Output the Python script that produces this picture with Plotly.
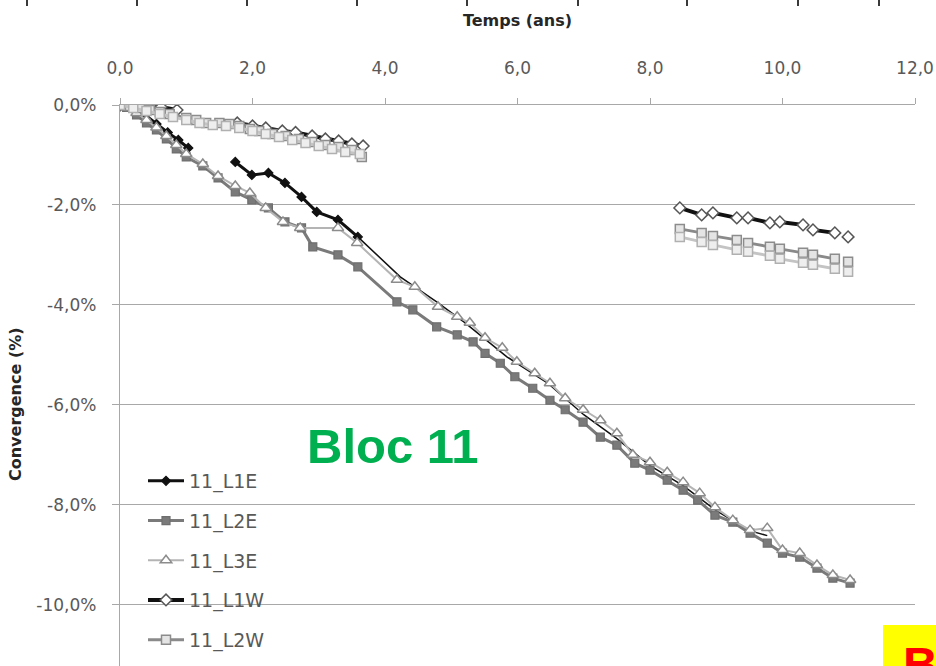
import plotly.graph_objects as go

# ---- Axis ticks -------------------------------------------------------------
x_tick_vals = [0, 2, 4, 6, 8, 10, 12]
x_tick_text = ["0,0", "2,0", "4,0", "6,0", "8,0", "10,0", "12,0"]
y_tick_vals = [0, -2, -4, -6, -8, -10]
y_tick_text = ["0,0%", "-2,0%", "-4,0%", "-6,0%", "-8,0%", "-10,0%"]

# ---- Convergence series (time in years, convergence in %) ------------------
# None marks interruptions in the measurement record.
l1e_t = [0.0, 0.2, 0.38, 0.55, 0.72, 0.88, 1.03, None,
         1.74, 1.99, 2.24, 2.49, 2.74, 2.97, 3.29, 3.59]
l1e_c = [0.0, -0.08, -0.2, -0.38, -0.55, -0.7, -0.86, None,
         -1.14, -1.40, -1.36, -1.56, -1.84, -2.14, -2.30, -2.64]
# later L1E readings (line only, largely masked by L2E / L3E)
l1e_late_t = [3.59, 4.23, 4.78, 5.2, 5.84, 6.45, 7.0, 7.5, 8.0, 8.5, 9.0, 9.5, 9.77]
l1e_late_c = [-2.64, -3.44, -3.94, -4.35, -5.04, -5.56, -6.2, -6.68, -7.22,
              -7.62, -8.12, -8.52, -8.62]

l2e_t = [0, 0.1, 0.25, 0.4, 0.55, 0.7, 0.85, 1.0, 1.25, 1.48, 1.74, 1.99, 2.24,
         2.49, 2.74, 2.91, 3.29, 3.59, 4.18, 4.42, 4.78, 5.09, 5.33, 5.51, 5.74,
         5.96, 6.23, 6.49, 6.72, 6.99, 7.25, 7.5, 7.77, 8.0, 8.26, 8.5, 8.72,
         8.98, 9.25, 9.51, 9.77, 10.0, 10.26, 10.52, 10.76, 11.02]
l2e_c = [0, -0.05, -0.2, -0.36, -0.5, -0.68, -0.88, -1.04, -1.22, -1.46, -1.74,
         -1.9, -2.06, -2.34, -2.46, -2.84, -3.0, -3.24, -3.94, -4.1, -4.44, -4.6,
         -4.74, -4.97, -5.17, -5.44, -5.67, -5.91, -6.1, -6.35, -6.65, -6.81,
         -7.17, -7.31, -7.51, -7.71, -7.91, -8.21, -8.35, -8.57, -8.77, -8.97,
         -9.05, -9.27, -9.47, -9.57]

l3e_t = [0, 0.1, 0.25, 0.4, 0.55, 0.7, 0.85, 1.0, 1.25, 1.48, 1.74, 1.96, 2.2,
         2.46, 2.72, 3.29, 3.58, 4.18, 4.45, 4.8, 5.09, 5.28, 5.51, 5.77, 5.99,
         6.26, 6.49, 6.72, 6.99, 7.25, 7.5, 7.74, 8.0, 8.26, 8.5, 8.75, 8.98,
         9.25, 9.51, 9.77, 10.0, 10.26, 10.52, 10.76, 11.02]
l3e_c = [0, -0.04, -0.16, -0.3, -0.45, -0.62, -0.8, -0.98, -1.18, -1.42, -1.62,
         -1.76, -2.06, -2.34, -2.46, -2.46, -2.76, -3.5, -3.64, -4.04, -4.24,
         -4.36, -4.66, -4.86, -5.14, -5.37, -5.57, -5.87, -6.1, -6.31, -6.57,
         -7.0, -7.15, -7.35, -7.55, -7.77, -8.05, -8.31, -8.51, -8.47, -8.91,
         -8.97, -9.21, -9.41, -9.51]

l1w_t = [0.0, 0.45, 0.62, 0.86, None,
         1.77, 2.0, 2.2, 2.45, 2.65, 2.9, 3.1, 3.3, 3.5, 3.67, None,
         8.45, 8.78, None, 8.95, 9.31, None, 9.48, 9.81, None,
         9.96, 10.31, None, 10.46, 10.79, None, 10.99]
l1w_c = [0.0, -0.02, -0.04, -0.1, None,
         -0.36, -0.42, -0.46, -0.52, -0.55, -0.62, -0.68, -0.72, -0.78, -0.82, None,
         -2.06, -2.20, None, -2.16, -2.26, None, -2.26, -2.36, None,
         -2.34, -2.40, None, -2.50, -2.56, None, -2.64]

l2w_t = [0.0, 0.15, 0.3, 0.45, 0.6, 0.75, 1.0, 1.15, 1.3, 1.5, 1.65, 1.8, 1.96,
         2.1, 2.3, 2.5, 2.7, 2.9, 3.1, 3.3, 3.5, 3.65, None,
         8.45, 8.78, None, 8.95, 9.31, None, 9.48, 9.81, None,
         9.96, 10.31, None, 10.46, 10.79, None, 10.99]
l2w_c = [0.0, -0.02, -0.06, -0.1, -0.14, -0.18, -0.26, -0.3, -0.36, -0.36,
         -0.38, -0.42, -0.48, -0.52, -0.58, -0.62, -0.68, -0.74, -0.8, -0.84,
         -0.9, -1.04, None,
         -2.48, -2.56, None, -2.62, -2.70, None, -2.76, -2.84, None,
         -2.88, -2.96, None, -3.00, -3.08, None, -3.14]

l3w_t = [0.0, 0.2, 0.4, 0.6, 0.8, 1.0, 1.2, 1.4, 1.6, 1.8, 2.0, 2.2, 2.4, 2.6,
         2.8, 3.0, 3.2, 3.4, 3.62, None,
         8.45, 8.78, None, 8.95, 9.31, None, 9.48, 9.81, None,
         9.96, 10.31, None, 10.46, 10.79, None, 10.99]
l3w_c = [0.0, -0.06, -0.12, -0.18, -0.24, -0.3, -0.36, -0.4, -0.42, -0.46,
         -0.52, -0.58, -0.64, -0.7, -0.76, -0.82, -0.88, -0.94, -0.98, None,
         -2.64, -2.74, None, -2.80, -2.90, None, -2.94, -3.02, None,
         -3.08, -3.16, None, -3.20, -3.28, None, -3.34]

TICK_FONT = "DejaVu Sans"
TEXT_GREY = "#595959"
GRID = "#a8a8a8"

fig = go.Figure()

# thin continuation of L1E, drawn first so the other series sit on top
fig.add_trace(go.Scatter(
    x=l1e_late_t, y=l1e_late_c, mode="lines", name="11_L1E",
    legendgroup="11_L1E", showlegend=False,
    line=dict(color="#111111", width=1.5),
))


def add_series(name, t, c, line_color, width, symbol, size, fill, edge,
               edge_w=1.2, show=True):
    fig.add_trace(go.Scatter(
        x=t, y=c, name=name, mode="lines+markers",
        legendgroup=name, showlegend=show,
        line=dict(color=line_color, width=width),
        marker=dict(symbol=symbol, size=size, color=fill,
                    line=dict(color=edge, width=edge_w)),
        connectgaps=False,
    ))


add_series("11_L1E", l1e_t, l1e_c, "#111111", 3, "diamond", 7, "#111111", "#111111")
add_series("11_L2E", l2e_t, l2e_c, "#7a7a7a", 3, "square", 8, "#7a7a7a", "#6e6e6e")
add_series("11_L3E", l3e_t, l3e_c, "#b4b4b4", 2, "triangle-up", 10, "#ffffff", "#8c8c8c", 1.5)
add_series("11_L1W", l1w_t, l1w_c, "#111111", 4, "diamond", 9, "#ffffff", "#555555", 1.5)
add_series("11_L2W", l2w_t, l2w_c, "#8a8a8a", 3, "square", 9, "#e4e4e4", "#8c8c8c", 1.5)
add_series("11_L3W", l3w_t, l3w_c, "#c4c4c4", 3, "square", 9, "#eeeeee", "#b0b0b0", 1.5,
           show=False)

W, H = 936, 666
L, R, T, B = 120, 21, 105, 0
pw, ph = W - L - R, H - T - B


def px_x(px):
    return (px - L) / pw


def px_y(py):
    return (H - B - py) / ph


fig.update_layout(
    width=W, height=H,
    margin=dict(l=L, r=R, t=T, b=B, pad=0),
    paper_bgcolor="white", plot_bgcolor="white",
    font=dict(family=TICK_FONT, color=TEXT_GREY),
    xaxis=dict(
        side="top", range=[0, 12], tickvals=x_tick_vals, ticktext=x_tick_text,
        showgrid=False, zeroline=False, showline=True, linecolor=GRID, linewidth=1.3,
        ticks="outside", ticklen=6, tickcolor=GRID, tickwidth=1.3,
        tickfont=dict(family=TICK_FONT, size=17, color=TEXT_GREY),
        ticklabelstandoff=17,
        title=dict(text="Temps (ans)", standoff=27,
                   font=dict(family="DejaVu Sans", size=16, color="#262626",
                             weight="bold")),
        automargin=False,
    ),
    yaxis=dict(
        range=[-11.23, 0], tickvals=y_tick_vals, ticktext=y_tick_text,
        showgrid=True, gridcolor=GRID, gridwidth=1.3, zeroline=False,
        showline=True, linecolor=GRID, linewidth=1.3,
        ticks="outside", ticklen=7, tickcolor=GRID, tickwidth=1.3,
        tickfont=dict(family=TICK_FONT, size=17, color=TEXT_GREY),
        ticklabelstandoff=12, automargin=False,
    ),
    legend=dict(
        x=px_x(143), xanchor="left", y=px_y(462), yanchor="top",
        bgcolor="rgba(0,0,0,0)", traceorder="grouped", tracegroupgap=12,
        itemwidth=36,
        font=dict(family=TICK_FONT, size=19, color=TEXT_GREY),
    ),
    showlegend=True,
)

# Y-axis title
fig.add_annotation(
    text="Convergence (%)", textangle=-90, showarrow=False,
    xref="paper", yref="paper", x=px_x(15), y=px_y(404),
    xanchor="center", yanchor="middle",
    font=dict(family="DejaVu Sans", size=16, color="#262626", weight="bold"),
)

# Block label
fig.add_annotation(
    text="Bloc 11", showarrow=False, xref="paper", yref="paper",
    x=px_x(393), y=px_y(446), xanchor="center", yanchor="middle",
    font=dict(family="Liberation Sans", size=49, color="#00b050", weight="bold"),
)

# Neighbouring panel: bottom axis ticks of the chart above
for tx in [27, 137, 247, 357, 467, 578, 687, 798, 879]:
    fig.add_shape(type="line", xref="paper", yref="paper",
                  x0=px_x(tx), x1=px_x(tx), y0=px_y(0), y1=px_y(6),
                  line=dict(color="#3a3a3a", width=2))

# Neighbouring panel label in the lower-right corner
fig.add_shape(type="rect", xref="paper", yref="paper",
              x0=px_x(883), x1=px_x(940), y0=px_y(670), y1=px_y(625),
              fillcolor="#ffff00", line=dict(width=0), layer="above")
fig.add_annotation(
    text="B", showarrow=False, xref="paper", yref="paper",
    x=px_x(901), y=px_y(636), xanchor="left", yanchor="top",
    font=dict(family="Liberation Sans", size=48, color="#ff0000", weight="bold"),
)

fig.write_html("out.html")
